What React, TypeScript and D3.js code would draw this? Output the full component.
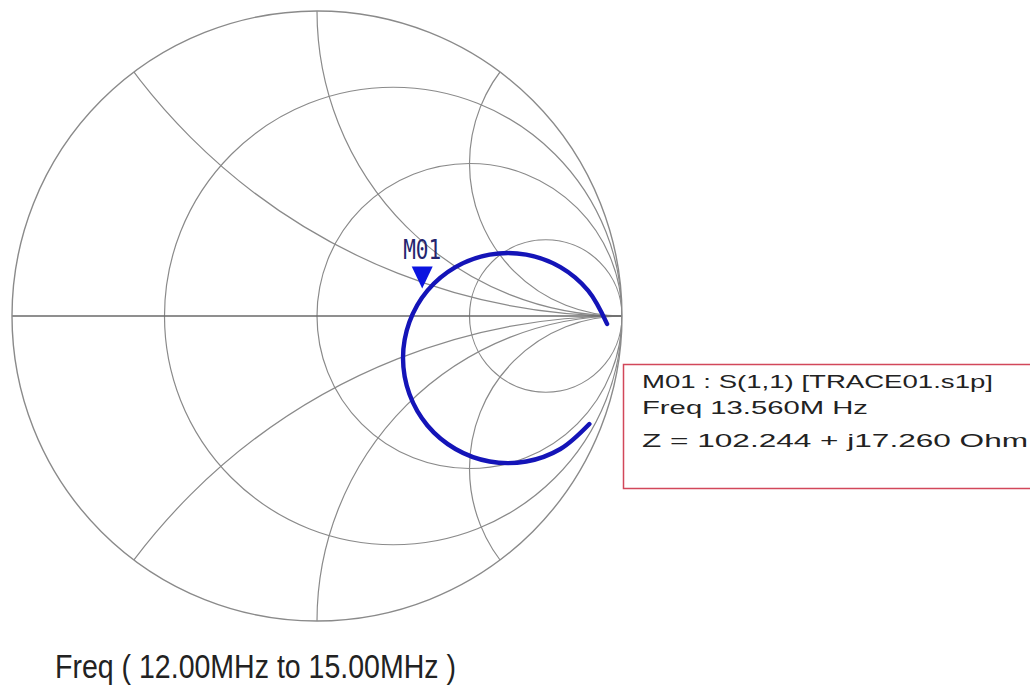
import React from 'react';
import * as d3 from 'd3';

// grid values of the Smith chart (normalised)
const rValues = [1 / 3, 1, 3];
const xValues = [0.5, 1, 2, -0.5, -1, -2];

// S11 trace, 12 MHz -> 15 MHz
const traceRe = [0.893, 0.798, 0.686, 0.566, 0.454, 0.362, 0.303, 0.282, 0.303, 0.362, 0.454, 0.566, 0.686, 0.798, 0.889, 0.951];
const traceIm = [-0.354, -0.436, -0.477, -0.477, -0.436, -0.359, -0.256, -0.138, -0.02, 0.083, 0.16, 0.201, 0.201, 0.16, 0.083, -0.026];

const z0 = 50;
const markerName = 'M01';
const markerR = 102.244;
const markerX = 17.26;
const markerLines = [
  'M01  : S(1,1) [TRACE01.s1p]',
  'Freq 13.560M  Hz',
  'Z =  102.244 + j17.260  Ohm',
];
const sweepLabel = 'Freq ( 12.00MHz to 15.00MHz )';

const W = 1030;
const H = 691;
const cx = 317;
const cy = 316;
const R = 305;

const App = () => {
  const x = d3.scaleLinear().domain([-1, 1]).range([cx - R, cx + R]);
  const y = d3.scaleLinear().domain([-1, 1]).range([cy + R, cy - R]);
  const len = (v: number) => x(v) - x(0);

  const points: [number, number][] = traceRe.map((re, i) => [re, traceIm[i]]);
  const line = d3.line<[number, number]>()
    .x((d) => x(d[0]))
    .y((d) => y(d[1]))
    .curve(d3.curveCatmullRom);

  // marker position from its impedance
  const zr = markerR / z0;
  const zi = markerX / z0;
  const den = (zr + 1) * (zr + 1) + zi * zi;
  const gRe = ((zr - 1) * (zr + 1) + zi * zi) / den;
  const gIm = (zi * (zr + 1) - (zr - 1) * zi) / den;
  const mx = x(gRe) - 2;
  const my = y(gIm) - 5;

  const grid = '#8a8a8a';

  return (
    <svg width={W} height={H} style={{ position: 'absolute', left: 0, top: 0, background: '#fff' }}>
      <defs>
        <clipPath id="unit">
          <circle cx={x(0)} cy={y(0)} r={len(1)} />
        </clipPath>
      </defs>

      <g clipPath="url(#unit)" fill="none" stroke={grid} strokeWidth={1.2}>
        {rValues.map((r) => (
          <circle key={'r' + r} cx={x(r / (r + 1))} cy={y(0)} r={len(1 / (r + 1))} />
        ))}
        {xValues.map((v) => (
          <circle key={'x' + v} cx={x(1)} cy={y(1 / v)} r={len(1 / Math.abs(v))} />
        ))}
      </g>
      <line x1={x(-1)} x2={x(1)} y1={y(0)} y2={y(0)} stroke="#6a6a6a" strokeWidth={1.3} />
      <circle cx={x(0)} cy={y(0)} r={len(1)} fill="none" stroke={grid} strokeWidth={1.4} />

      <path d={line(points) ?? ''} fill="none" stroke="#1414b8" strokeWidth={4.4} strokeLinecap="round" />

      <path d={`M${mx},${my} L${mx - 10.5},${my - 22} L${mx + 10.5},${my - 22} Z`} fill="#0b14e0" />
      <text x={mx} y={my - 30} textAnchor="middle" fontFamily="DejaVu Sans Mono" fontSize={26}
        textLength={38} lengthAdjust="spacingAndGlyphs" fill="#24246e">{markerName}</text>

      <rect x={623.5} y={364.5} width={420} height={124} fill="#fff" stroke="#d2475a" strokeWidth={1.5} />
      {markerLines.map((t, i) => (
        <text key={t} x={642} y={[388, 414, 447][i]} fontFamily="Liberation Sans" fontSize={19}
          textLength={[351, 226, 386][i]} lengthAdjust="spacingAndGlyphs" fill="#222">{t}</text>
      ))}

      <text x={55} y={678} fontFamily="Liberation Sans" fontSize={33} textLength={401}
        lengthAdjust="spacingAndGlyphs" fill="#222">{sweepLabel}</text>
    </svg>
  );
};

export default App;
